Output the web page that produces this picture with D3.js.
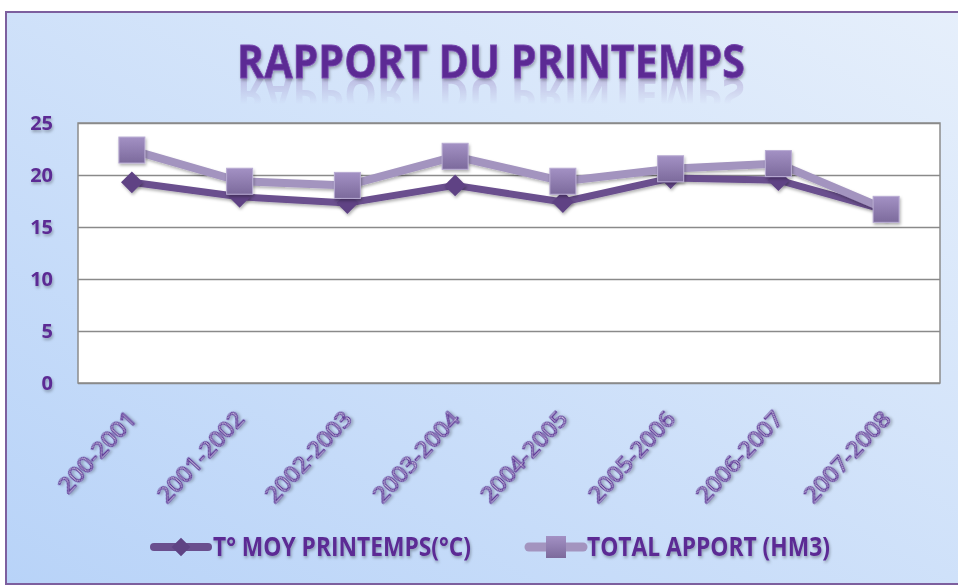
<!DOCTYPE html>
<html>
<head>
<meta charset="utf-8">
<script src="https://cdn.jsdelivr.net/npm/d3@7"></script>
<style>
  html, body { margin: 0; padding: 0; background: #fff; }
  svg { display: block; }
</style>
</head>
<body>
<div id="chart"></div>
<script>
// data
var seasons = ["200-2001", "2001-2002", "2002-2003", "2003-2004", "2004-2005", "2005-2006", "2006-2007", "2007-2008"];
var tempMoy = [19.3, 17.9, 17.3, 19.0, 17.4, 19.7, 19.5, 16.6];
var totalApport = [22.4, 19.4, 19.0, 21.8, 19.4, 20.6, 21.1, 16.7];
var yTicks = [0, 5, 10, 15, 20, 25];
var seriesNames = ["T° MOY PRINTEMPS(°C)", "TOTAL APPORT (HM3)"];

var W = 958, H = 586;
var margin = {top: 123, right: 18, bottom: 203, left: 78};
var width = W - margin.left - margin.right,
    height = H - margin.top - margin.bottom;

var svg = d3.select("#chart").append("svg")
  .attr("width", W)
  .attr("height", H)
  .style("font-family", "'Liberation Sans Narrow', 'Open Sans', Arial, sans-serif");

var defs = svg.append("defs");

//Background gradient
var bg = defs.append("linearGradient").attr("id", "bg")
  .attr("x1", "0").attr("y1", "1").attr("x2", "1").attr("y2", "0");
bg.append("stop").attr("offset", "0%").attr("stop-color", "#b8d3f8");
bg.append("stop").attr("offset", "100%").attr("stop-color", "#e6effb");

//Square marker gradient
var sq = defs.append("linearGradient").attr("id", "sq")
  .attr("x1", "0").attr("y1", "0").attr("x2", "0").attr("y2", "1");
sq.append("stop").attr("offset", "0%").attr("stop-color", "#a391c4");
sq.append("stop").attr("offset", "100%").attr("stop-color", "#7c6a9c");

//Soft shadow
var sh = defs.append("filter").attr("id", "shadow")
  .attr("x", "-30%").attr("y", "-30%").attr("width", "160%").attr("height", "160%");
sh.append("feDropShadow").attr("dx", 1).attr("dy", 2).attr("stdDeviation", 1.5)
  .attr("flood-color", "#000").attr("flood-opacity", 0.3);

//Fade for the reflection of the title
var fade = defs.append("linearGradient").attr("id", "fade")
  .attr("x1", "0").attr("y1", "0").attr("x2", "0").attr("y2", "1");
fade.append("stop").attr("offset", "0%").attr("stop-color", "#fff").attr("stop-opacity", 0.9);
fade.append("stop").attr("offset", "100%").attr("stop-color", "#fff").attr("stop-opacity", 0);
defs.append("mask").attr("id", "fadeMask")
  .attr("maskUnits", "userSpaceOnUse")
  .append("rect").attr("x", 0).attr("y", 78).attr("width", W).attr("height", 26)
  .attr("fill", "url(#fade)");

//Frame
svg.append("rect").attr("x", 0).attr("y", 0).attr("width", W).attr("height", H).attr("fill", "#fff");
svg.append("rect")
  .attr("x", 6).attr("y", 12).attr("width", W).attr("height", 572)
  .attr("fill", "url(#bg)")
  .attr("stroke", "#7d5f9e")
  .attr("stroke-width", 2);

//Title, the reflection reuses it
var titleX = 491;
defs.append("text")
  .attr("id", "titleText")
  .attr("x", titleX).attr("y", 78)
  .attr("text-anchor", "middle")
  .attr("textLength", 508).attr("lengthAdjust", "spacingAndGlyphs")
  .style("font-size", "46px").style("font-weight", "bold")
  .text("RAPPORT DU PRINTEMPS");

svg.append("g").attr("mask", "url(#fadeMask)")
  .append("use")
  .attr("href", "#titleText")
  .attr("transform", "translate(0,156) scale(1,-1)")
  .style("fill", "#9c86c4").style("opacity", 0.45);

svg.append("use")
  .attr("href", "#titleText")
  .style("fill", "#5c2c94")
  .style("stroke", "#7a4bb0").style("stroke-width", 0.8)
  .attr("filter", "url(#shadow)");

var g = svg.append("g")
  .attr("transform", "translate(" + margin.left + "," + margin.top + ")");

//Scales
var x = d3.scaleBand().domain(seasons).range([0, width]);
var y = d3.scaleLinear().domain([0, 25]).range([height, 0]);

//Plot area
g.append("rect")
  .attr("width", width).attr("height", height)
  .attr("fill", "#fff")
  .attr("stroke", "#8c8c8c").attr("stroke-width", 1.5);

//Gridlines
g.append("g")
  .call(d3.axisLeft(y).tickValues(yTicks).tickSize(-width).tickFormat(""))
  .call(s => s.select(".domain").remove())
  .selectAll("line")
  .attr("stroke", "#8a8a8a").attr("stroke-width", 1.6);

//Y labels
g.append("g")
  .call(d3.axisLeft(y).tickValues(yTicks).tickSize(0).tickPadding(25))
  .call(s => s.select(".domain").remove())
  .selectAll("text")
  .style("font-family", "'Open Sans', Arial, sans-serif")
  .style("font-size", "20px").style("font-weight", "bold")
  .style("fill", "#5c2c94")
  .attr("filter", "url(#shadow)");

//X labels, rotated
g.append("g")
  .attr("transform", "translate(0," + height + ")")
  .call(d3.axisBottom(x).tickSize(0).tickPadding(0))
  .call(s => s.select(".domain").remove())
  .selectAll("text")
  .attr("text-anchor", "end")
  .attr("dy", 0).attr("y", 0)
  .attr("textLength", d => d.length * 12.8)
  .attr("lengthAdjust", "spacingAndGlyphs")
  .attr("transform", "translate(6,37) rotate(-47)")
  .style("font-family", "'Open Sans', Arial, sans-serif")
  .style("font-size", "21px").style("font-weight", "normal")
  .style("fill", "#ebe8f8")
  .style("stroke", "#5e3896").style("stroke-width", 1.1)
  .attr("filter", "url(#shadow)");

var cx = d => x(d) + x.bandwidth() / 2;

var lineT = d3.line().x((d, i) => cx(seasons[i])).y(d => y(d));

//Temperature series
g.append("path")
  .datum(tempMoy)
  .attr("d", lineT)
  .attr("fill", "none")
  .attr("stroke", "#6a4f8e").attr("stroke-width", 7)
  .attr("stroke-linejoin", "round")
  .attr("filter", "url(#shadow)");

var diamond = d3.symbol().type(d3.symbolDiamond2).size(300);
g.selectAll(".dia")
  .data(tempMoy)
  .enter().append("path")
  .attr("class", "dia")
  .attr("d", diamond)
  .attr("transform", (d, i) => "translate(" + cx(seasons[i]) + "," + y(d) + ")")
  .attr("fill", "#5f4384")
  .attr("filter", "url(#shadow)");

//Total series
g.append("path")
  .datum(totalApport)
  .attr("d", lineT)
  .attr("fill", "none")
  .attr("stroke", "#a394bf").attr("stroke-width", 8)
  .attr("stroke-linejoin", "round")
  .attr("filter", "url(#shadow)");

g.selectAll(".sq")
  .data(totalApport)
  .enter().append("rect")
  .attr("class", "sq")
  .attr("x", (d, i) => cx(seasons[i]) - 13)
  .attr("y", d => y(d) - 13)
  .attr("width", 26).attr("height", 26)
  .attr("fill", "url(#sq)")
  .attr("stroke", "#b9acd3").attr("stroke-width", 1)
  .attr("filter", "url(#shadow)");

//Legend
var legY = 547;
var leg1 = svg.append("g");
leg1.append("line")
  .attr("x1", 154).attr("x2", 208).attr("y1", legY).attr("y2", legY)
  .attr("stroke", "#6a4f8e").attr("stroke-width", 8).attr("stroke-linecap", "round");
leg1.append("path")
  .attr("d", d3.symbol().type(d3.symbolDiamond2).size(220))
  .attr("transform", "translate(181," + legY + ")")
  .attr("fill", "#5f4384");
leg1.append("text")
  .attr("x", 213).attr("y", legY + 9)
  .attr("textLength", 258).attr("lengthAdjust", "spacingAndGlyphs")
  .style("font-size", "26px").style("font-weight", "bold")
  .style("fill", "#5c2c94")
  .attr("filter", "url(#shadow)")
  .text(seriesNames[0]);

var leg2 = svg.append("g");
leg2.append("line")
  .attr("x1", 529).attr("x2", 583).attr("y1", legY).attr("y2", legY)
  .attr("stroke", "#a394bf").attr("stroke-width", 9).attr("stroke-linecap", "round");
leg2.append("rect")
  .attr("x", 546).attr("y", legY - 11).attr("width", 20).attr("height", 22)
  .attr("fill", "url(#sq)");
leg2.append("text")
  .attr("x", 587).attr("y", legY + 9)
  .attr("textLength", 243).attr("lengthAdjust", "spacingAndGlyphs")
  .style("font-size", "26px").style("font-weight", "bold")
  .style("fill", "#5c2c94")
  .attr("filter", "url(#shadow)")
  .text(seriesNames[1]);
</script>
</body>
</html>
